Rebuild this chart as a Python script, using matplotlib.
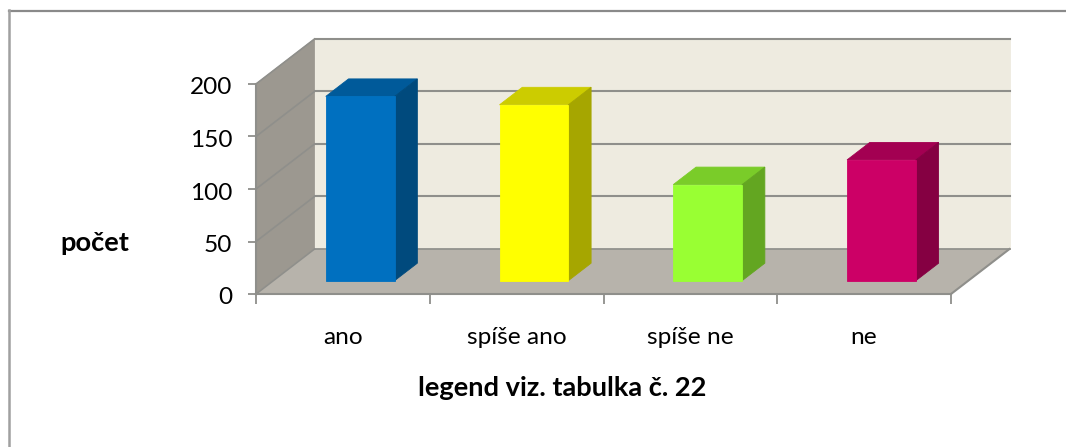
import matplotlib
matplotlib.use("Agg")
import matplotlib.pyplot as plt
from matplotlib.patches import Polygon
from matplotlib.lines import Line2D
from matplotlib.transforms import ScaledTranslation

categories = ["ano", "spíše ano", "spíše ne", "ne"]
values = [175.5, 167.5, 91.5, 115]
front_colors = ["#0070C0", "#FFFF00", "#99FF33", "#CC0066"]
top_colors = ["#005A9A", "#CCCC00", "#7ACC29", "#A30052"]
side_colors = ["#004A7D", "#A6A600", "#63A621", "#850042"]
y_ticks = [0, 50, 100, 150, 200]

W, H = 1066, 447
plt.rcParams['font.family'] = ['Lato', 'DejaVu Sans']
fig = plt.figure(figsize=(W / 100, H / 100), dpi=100)
fig.patch.set_facecolor("white")

# plot box of the front plane, in pixels
L, R, T, B = 256.0, 951.0, 84.0, 294.0
ax = fig.add_axes([L / W, 1 - B / H, (R - L) / W, (B - T) / H])
ax.set_xlim(0, 4)
ax.set_ylim(0, 200)
ax.patch.set_visible(False)

DX = 58.5 / ((R - L) / 4)   # full depth, in category units
DY = 45.0 / ((B - T) / 200)  # full depth, in value units
BAR_W = 0.396
D0, D1 = 0.296, 0.685


def p(c, v, d=0.0):
    return (c + d * DX, v + d * DY)


def poly(pts, color, z, edge=None):
    ax.add_patch(Polygon(pts, closed=True, facecolor=color, edgecolor=edge or color,
                         linewidth=0.6, zorder=z, clip_on=False))


GRID = "#8F8F8B"
poly([p(0, 0, 1), p(4, 0, 1), p(4, 200, 1), p(0, 200, 1)], "#EEEBE0", 1)
poly([p(0, 0), p(0, 0, 1), p(0, 200, 1), p(0, 200)], "#9C9890", 1)
poly([p(0, 0), p(4, 0), p(4, 0, 1), p(0, 0, 1)], "#B7B3AB", 1)

for v in y_ticks:
    if v > 0:
        ax.plot([p(0, v, 1)[0], p(4, v, 1)[0]], [p(0, v, 1)[1]] * 2, color=GRID, lw=1.5, zorder=2, clip_on=False)
        ax.plot([p(0, v)[0], p(0, v, 1)[0]], [p(0, v)[1], p(0, v, 1)[1]], color=GRID, lw=1.2, zorder=2, clip_on=False)
ax.plot([p(0, 0, 1)[0], p(4, 0, 1)[0]], [p(0, 0, 1)[1]] * 2, color=GRID, lw=1.2, zorder=2, clip_on=False)
ax.plot([p(0, 0)[0], p(0, 0, 1)[0]], [p(0, 0)[1], p(0, 0, 1)[1]], color=GRID, lw=1.2, zorder=2, clip_on=False)
ax.plot([p(4, 0)[0], p(4, 0, 1)[0]], [p(4, 0)[1], p(4, 0, 1)[1]], color=GRID, lw=1.5, zorder=2, clip_on=False)

for i, v in enumerate(values):
    c0 = i + 0.5 - BAR_W / 2
    c1 = i + 0.5 + BAR_W / 2
    poly([p(c0, v, D0), p(c1, v, D0), p(c1, v, D1), p(c0, v, D1)], top_colors[i], 3)
    poly([p(c1, 0, D0), p(c1, 0, D1), p(c1, v, D1), p(c1, v, D0)], side_colors[i], 3)
    poly([p(c0, 0, D0), p(c1, 0, D0), p(c1, v, D0), p(c0, v, D0)], front_colors[i], 4)

for s in ("top", "right"):
    ax.spines[s].set_visible(False)
for s in ("left", "bottom"):
    ax.spines[s].set_color(GRID)
    ax.spines[s].set_linewidth(1.5)

ax.set_yticks(y_ticks)
ax.tick_params(axis="y", length=6, width=1.3, color=GRID, labelsize=17.6, labelcolor="black", pad=11)
shift = ScaledTranslation(0, -2 / 100, fig.dpi_scale_trans)
for lab in ax.get_yticklabels():
    lab.set_transform(lab.get_transform() + shift)
ax.set_xticks(range(5))
ax.set_xticklabels([])
ax.tick_params(axis="x", which="major", length=7, width=1.3, color=GRID)
ax.set_xticks([i + 0.5 for i in range(4)], minor=True)
ax.set_xticklabels(categories, minor=True)
ax.tick_params(axis="x", which="minor", length=0, labelsize=17.6, labelcolor="black", pad=24)

fig.text(94.5 / W, 1 - 243 / H, "počet", ha="center", va="center", fontsize=19.6, fontweight="bold")
fig.text(562 / W, 1 - 388 / H, "legend viz. tabulka č. 22", ha="center", va="center", fontsize=19.6, fontweight="bold")

fig.add_artist(Line2D([9 / W, 1], [1 - 11 / H, 1 - 11 / H], color="#8A8A8A", lw=1.6))
fig.add_artist(Line2D([9.2 / W, 9.2 / W], [1 - 10 / H, 0], color="#A0A0A0", lw=1.8))

fig.savefig("out.png", dpi=100)
